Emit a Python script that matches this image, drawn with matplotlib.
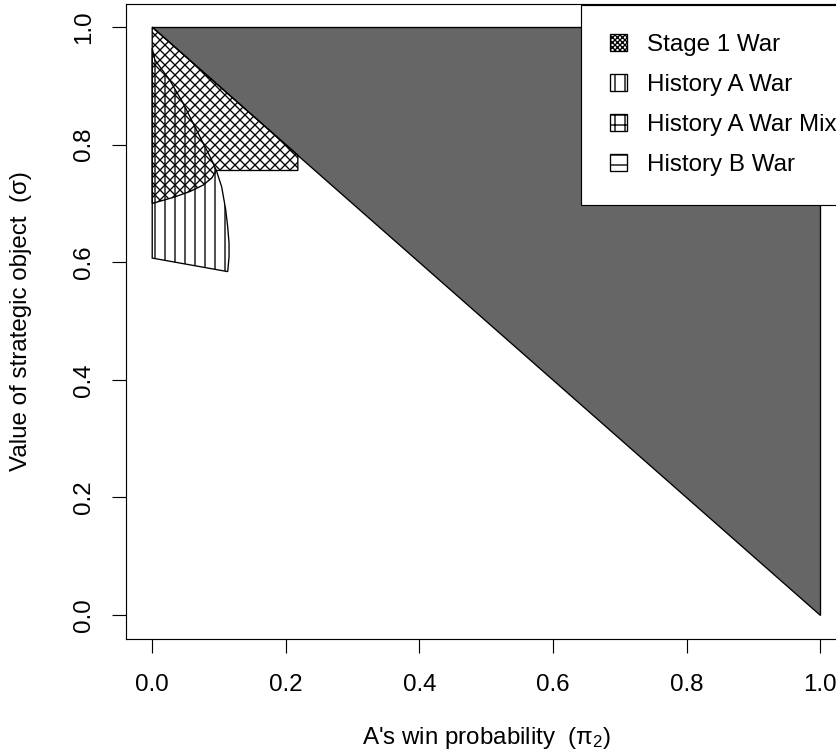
import numpy as np
import matplotlib
matplotlib.use('Agg')
import matplotlib.pyplot as plt
from matplotlib.patches import Patch

plt.rcParams['font.family'] = ['Liberation Sans', 'DejaVu Sans']
plt.rcParams['mathtext.fontset'] = 'custom'
plt.rcParams['mathtext.rm'] = 'Liberation Sans'
plt.rcParams['mathtext.default'] = 'regular'
plt.rcParams['hatch.linewidth'] = 0.8

# region where war never happens (upper right triangle)
peace_x = [0.0, 1.0, 1.0]
peace_y = [1.0, 1.0, 0.0]

# Stage 1 War region
stage1_x = [0.0, 0.218, 0.218, 0.096, 0.089, 0.076, 0.056, 0.031, 0.0]
stage1_y = [1.0, 0.782, 0.756, 0.756, 0.743, 0.731, 0.720, 0.710, 0.700]

# History A War region
histA_x = [0.0, 0.004, 0.026, 0.046, 0.061, 0.076, 0.089, 0.096,
           0.104, 0.110, 0.113, 0.115, 0.115, 0.113, 0.0]
histA_y = [0.964, 0.944, 0.910, 0.871, 0.837, 0.803, 0.774, 0.756,
           0.728, 0.689, 0.660, 0.632, 0.609, 0.584, 0.607]

legend_labels = ['Stage 1 War', 'History A War', 'History A War Mix', 'History B War']
legend_hatch = ['xxxxxxxx', '||', '++', '--']

dpi = 120
fig = plt.figure(figsize=(836 / dpi, 755 / dpi), dpi=dpi)
ax = fig.add_axes([125.5 / 836, 1 - 638.5 / 755, (847 - 125.5) / 836, (638.5 - 3.5) / 755])

ax.fill(peace_x, peace_y, facecolor='#666666', edgecolor='black', linewidth=0.8)
ax.fill(stage1_x, stage1_y, facecolor='none', edgecolor='black', hatch='xxxx', linewidth=0.8)
ax.fill(histA_x, histA_y, facecolor='none', edgecolor='black', hatch='||', linewidth=0.8)

ax.set_xlim(-0.04, 1.04)
ax.set_ylim(-0.04, 1.04)
ticks = [0.0, 0.2, 0.4, 0.6, 0.8, 1.0]
ax.set_xticks(ticks)
ax.set_yticks(ticks)
ax.set_xticklabels(['%.1f' % t for t in ticks])
ax.set_yticklabels(['%.1f' % t for t in ticks], rotation=90, va='center')
ax.tick_params(length=8.4, width=0.7, labelsize=14.5)
ax.tick_params(axis='x', pad=13)
ax.tick_params(axis='y', pad=10)
for s in ax.spines.values():
    s.set_linewidth(0.7)

ax.set_xlabel("A's win probability  (π$_2$)", fontsize=14.5, va='center')
ax.xaxis.set_label_coords(0.5, -0.157)
ax.set_ylabel('Value of strategic object  (σ)', fontsize=14.5, va='center')
ax.yaxis.set_label_coords(-0.145, 0.5)

handles = [Patch(facecolor='white', edgecolor='black', hatch=h, linewidth=0.8) for h in legend_hatch]
leg = ax.legend(handles, legend_labels, loc='upper left',
                bbox_to_anchor=(581 / 836, 1 - 5 / 755), bbox_transform=fig.transFigure,
                fontsize=14.5, fancybox=False, framealpha=1, edgecolor='black',
                borderpad=1.2, labelspacing=0.75, handlelength=0.7, handleheight=0.7,
                handletextpad=0.85, borderaxespad=0)
leg.get_frame().set_linewidth(0.7)

fig.savefig('out.png', dpi=dpi)
